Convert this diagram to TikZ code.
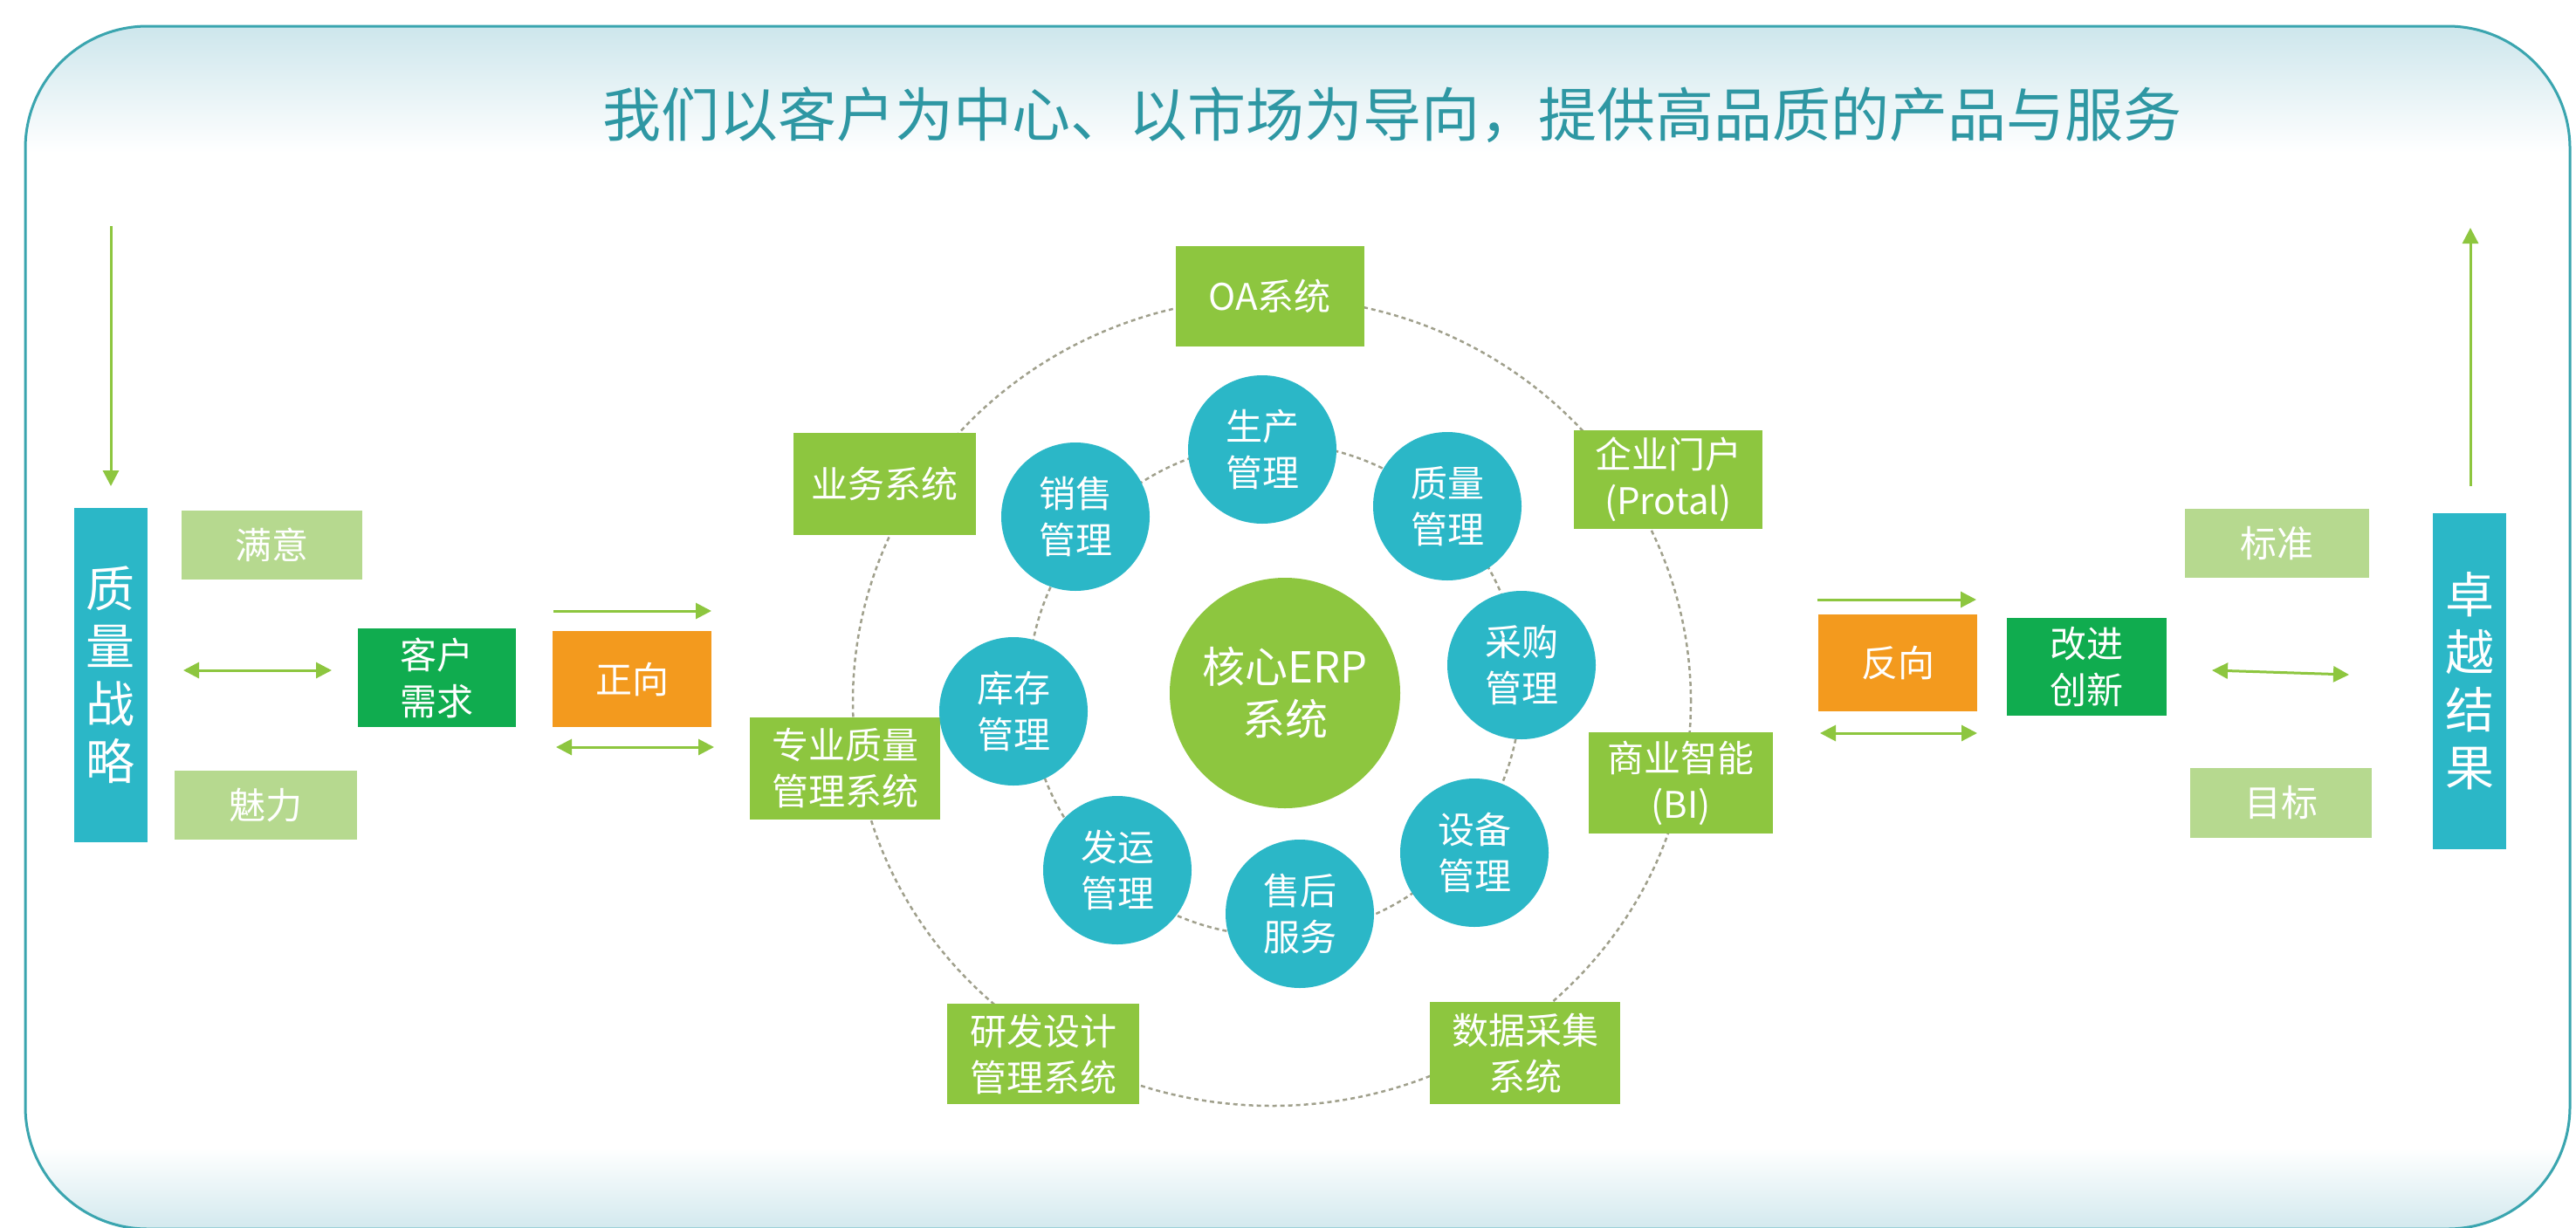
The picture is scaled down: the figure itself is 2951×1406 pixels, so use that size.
\documentclass[tikz,border=0pt]{standalone}
\usepackage{fontspec}
\setmainfont{Noto Sans CJK SC}
\usetikzlibrary{arrows.meta}
\definecolor{tealc}{RGB}{43,183,199}
\definecolor{limec}{RGB}{141,198,63}
\definecolor{palec}{RGB}{182,217,143}
\definecolor{dgreen}{RGB}{16,172,79}
\definecolor{orngc}{RGB}{243,154,30}
\definecolor{titlec}{RGB}{46,151,163}
\definecolor{framec}{RGB}{58,165,175}
\definecolor{lblue}{RGB}{205,230,236}
\definecolor{dashc}{RGB}{160,160,140}
\begin{document}
\begin{tikzpicture}[x=1pt,y=-1pt,
  box/.style={rectangle, inner sep=0pt, text=white, align=center, font=\fontsize{42}{53}\selectfont},
  sysbox/.style={box, fill=limec, minimum width=216pt, minimum height=115pt},
  palebox/.style={box, fill=palec, minimum width=208pt, minimum height=79pt},
  vbox/.style={box, fill=tealc, minimum width=84pt, minimum height=383pt, font=\fontsize{56}{66}\selectfont},
  gbox/.style={box, fill=dgreen, minimum width=182pt, minimum height=112pt},
  obox/.style={box, fill=orngc, minimum width=182pt, minimum height=111pt},
  modc/.style={circle, inner sep=0pt, minimum size=170pt, fill=tealc, text=white, align=center, font=\fontsize{42}{53}\selectfont},
  corec/.style={circle, inner sep=0pt, minimum size=264pt, fill=limec, text=white, align=center, font=\fontsize{49}{60}\selectfont},
  ring/.style={draw=dashc, line width=2.5pt, dash pattern=on 5pt off 4pt},
  arr/.style={draw=limec, line width=3pt, -{Triangle[length=18pt,width=18pt]}},
  darr/.style={draw=limec, line width=3pt, {Triangle[length=18pt,width=18pt]}-{Triangle[length=18pt,width=18pt]}}
]
\useasboundingbox (0,0) rectangle (2951,1406);
\fill[white] (0,0) rectangle (2951,1406);
% frame
\begin{scope}
  \clip[rounded corners=140pt] (29,30) rectangle (2944,1408);
  \fill[white] (0,0) rectangle (2951,1420);
  \shade[top color=lblue, bottom color=white] (0,30) rectangle (2951,175);
  \shade[top color=white, bottom color=lblue] (0,1315) rectangle (2951,1420);
\end{scope}
\draw[framec, line width=3pt, rounded corners=140pt] (29,30) rectangle (2944,1408);

% title
\node[font=\fontsize{67}{78}\selectfont, text=titlec] (title) at (1595,132)
  {我们以客户为中心、以市场为导向，提供高品质的产品与服务};

% rings
\draw[ring] (1457,804) ellipse [x radius=480pt, y radius=463pt];
\draw[ring] (1460,790) circle [radius=282pt];

% outer system boxes
\node[sysbox] (oa)   at (1454.5,339.5) {OA系统};
\node[sysbox, minimum width=209pt, minimum height=117pt] (ywxt) at (1013.5,554.5) {业务系统};
\node[sysbox, minimum width=218pt, minimum height=117pt] (zyzl) at (968,880.5) {专业质量\\管理系统};
\node[sysbox, minimum width=220pt] (yfsj) at (1195,1207.5) {研发设计\\管理系统};
\node[sysbox, minimum width=218pt, minimum height=117pt] (sjcj) at (1747,1206.5) {数据采集\\系统};
\node[sysbox, minimum height=113pt] (qymh) at (1911,549.5) {企业门户\\(Protal)};
\node[sysbox, minimum width=211pt, minimum height=116pt] (syzn) at (1925.5,897) {商业智能\\(BI)};

% modules
\node[modc] (sc)   at (1446,515)  {生产\\管理};
\node[modc] (zlgl) at (1658,580)  {质量\\管理};
\node[modc] (xs)   at (1232,592)  {销售\\管理};
\node[modc] (cg)   at (1743,762)  {采购\\管理};
\node[modc] (kc)   at (1161,815)  {库存\\管理};
\node[modc] (sb)   at (1689,977)  {设备\\管理};
\node[modc] (fy)   at (1280,997)  {发运\\管理};
\node[modc] (sh)   at (1489,1047) {售后\\服务};
\node[corec] (erp) at (1472,794)  {核心ERP\\系统};

% left side
\node[vbox] (zlzl) at (126.5,773.5) {质\\量\\战\\略};
\node[palebox, minimum width=207pt] (manyi) at (311.5,624) {满意};
\node[palebox, minimum width=209pt] (meili) at (304.5,922.5) {魅力};
\node[gbox, minimum width=181pt, minimum height=113pt] (khxq) at (500.5,776.5) {客户\\需求};
\node[obox, minimum height=110pt] (zx) at (724,778) {正向};

% right side
\node[obox] (fx) at (2174,759.5) {反向};
\node[gbox, minimum width=183pt] (gjcx) at (2390.5,764) {改进\\创新};
\node[palebox, minimum width=211pt] (bz) at (2608.5,622.5) {标准};
\node[palebox, minimum width=208pt, minimum height=80pt] (mb) at (2613,920) {目标};
\node[vbox, minimum height=385pt] (zyjg) at (2829,780.5) {卓\\越\\结\\果};

% arrows
\coordinate (a1s) at (127,259);  \coordinate (a1e) at (127,557);
\coordinate (a2s) at (210,768);  \coordinate (a2e) at (380,768);
\coordinate (a3s) at (634,700);  \coordinate (a3e) at (815,700);
\coordinate (a4s) at (637,856);  \coordinate (a4e) at (818,856);
\coordinate (a5s) at (2082,687); \coordinate (a5e) at (2264,687);
\coordinate (a6s) at (2085,840); \coordinate (a6e) at (2265,840);
\coordinate (a7s) at (2534,768); \coordinate (a7e) at (2691,773);
\coordinate (a8s) at (2830,557); \coordinate (a8e) at (2830,261);
\draw[arr]  (a1s) -- (a1e);
\draw[darr] (a2s) -- (a2e);
\draw[arr]  (a3s) -- (a3e);
\draw[darr] (a4s) -- (a4e);
\draw[arr]  (a5s) -- (a5e);
\draw[darr] (a6s) -- (a6e);
\draw[darr] (a7s) -- (a7e);
\draw[arr]  (a8s) -- (a8e);
\end{tikzpicture}
\end{document}
